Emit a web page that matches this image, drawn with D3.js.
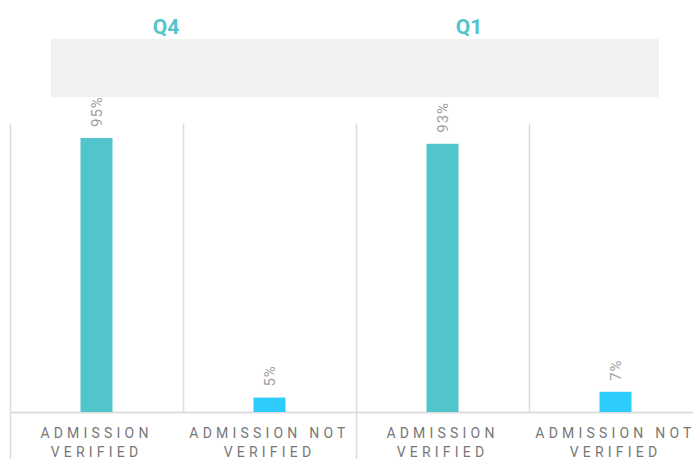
<!DOCTYPE html>
<html><head><meta charset="utf-8">
<script src="https://cdn.jsdelivr.net/npm/d3@7"></script>
<style>
html,body{margin:0;padding:0;background:#fff;}
svg{display:block;font-family:Roboto,"Noto Sans",sans-serif;}
</style></head>
<body><svg id="c" width="693" height="459"></svg>
<script>
const groups = ["Q4", "Q1"];
const categories = ["ADMISSION VERIFIED", "ADMISSION NOT VERIFIED"];
const valuesQ4 = [95, 5];
const valuesQ1 = [93, 7];
const seriesValues = {Q4: valuesQ4, Q1: valuesQ1};
const colors = ["#52c4cc", "#2ecbff"];

const svg = d3.select("#c");
const W = 693, H = 459;
const plot = {left: 10, right: 702, top: 123.6, bottom: 412};

const data = [];
groups.forEach(g => categories.forEach((c, i) => data.push({g, c, i, v: seriesValues[g][i]})));

const x0 = d3.scaleBand().domain(groups).range([plot.left, plot.right]);
const x1 = d3.scaleBand().domain(categories).range([0, x0.bandwidth()]);
const y = d3.scaleLinear().domain([0, 100]).range([plot.bottom, plot.top]);
const titleX = d3.scalePoint().domain(groups).range([166, 469]);

// header banner
svg.append("rect").attr("x", 51).attr("y", 39).attr("width", 608).attr("height", 58).attr("fill", "#f1f1f1");

// group titles
svg.selectAll("text.title").data(groups).join("text").attr("class", "title")
  .attr("x", d => titleX(d)).attr("y", 34).attr("text-anchor", "middle")
  .attr("fill", "#52c4cc").attr("font-size", 21).attr("font-weight", 700).text(d => d);

// gridlines
const gridColor = "#dddddd";
groups.forEach(g => {
  categories.forEach((c, i) => {
    const xx = Math.round(x0(g) + x1(c)) + 0.5;
    svg.append("line").attr("x1", xx).attr("x2", xx).attr("y1", plot.top)
      .attr("y2", i === 0 ? H : plot.bottom)
      .attr("stroke", gridColor).attr("stroke-width", 1.6);
  });
});
svg.append("line").attr("x1", plot.left).attr("x2", W).attr("y1", plot.bottom + 0.5).attr("y2", plot.bottom + 0.5)
  .attr("stroke", gridColor).attr("stroke-width", 2);

// bars
const barW = 32;
svg.selectAll("rect.bar").data(data).join("rect").attr("class", "bar")
  .attr("x", d => x0(d.g) + x1(d.c) + x1.bandwidth() / 2 - barW / 2)
  .attr("width", barW)
  .attr("y", d => y(d.v))
  .attr("height", d => y(0) - y(d.v))
  .attr("fill", d => colors[d.i]);

// value labels (rotated)
svg.selectAll("text.val").data(data).join("text").attr("class", "val")
  .attr("transform", d => `translate(${x0(d.g) + x1(d.c) + x1.bandwidth() / 2},${y(d.v) - 11}) rotate(-90)`)
  .attr("dy", "0.35em")
  .attr("fill", "#a0a0a0").attr("font-size", 15).attr("letter-spacing", 1)
  .text(d => d.v + "%");

// category labels
const lines = c => { const w = c.split(" "); return [w.slice(0, -1).join(" "), w[w.length - 1]]; };
data.forEach(d => {
  const cx = x0(d.g) + x1(d.c) + x1.bandwidth() / 2;
  const t = svg.append("text")
    .attr("text-anchor", "middle").attr("fill", "#777").attr("font-size", 14)
    .attr("letter-spacing", 4.2);
  lines(d.c).forEach((ln, k) => {
    t.append("tspan").attr("x", cx).attr("y", 438 + k * 19).text(ln);
  });
});
</script></body></html>
